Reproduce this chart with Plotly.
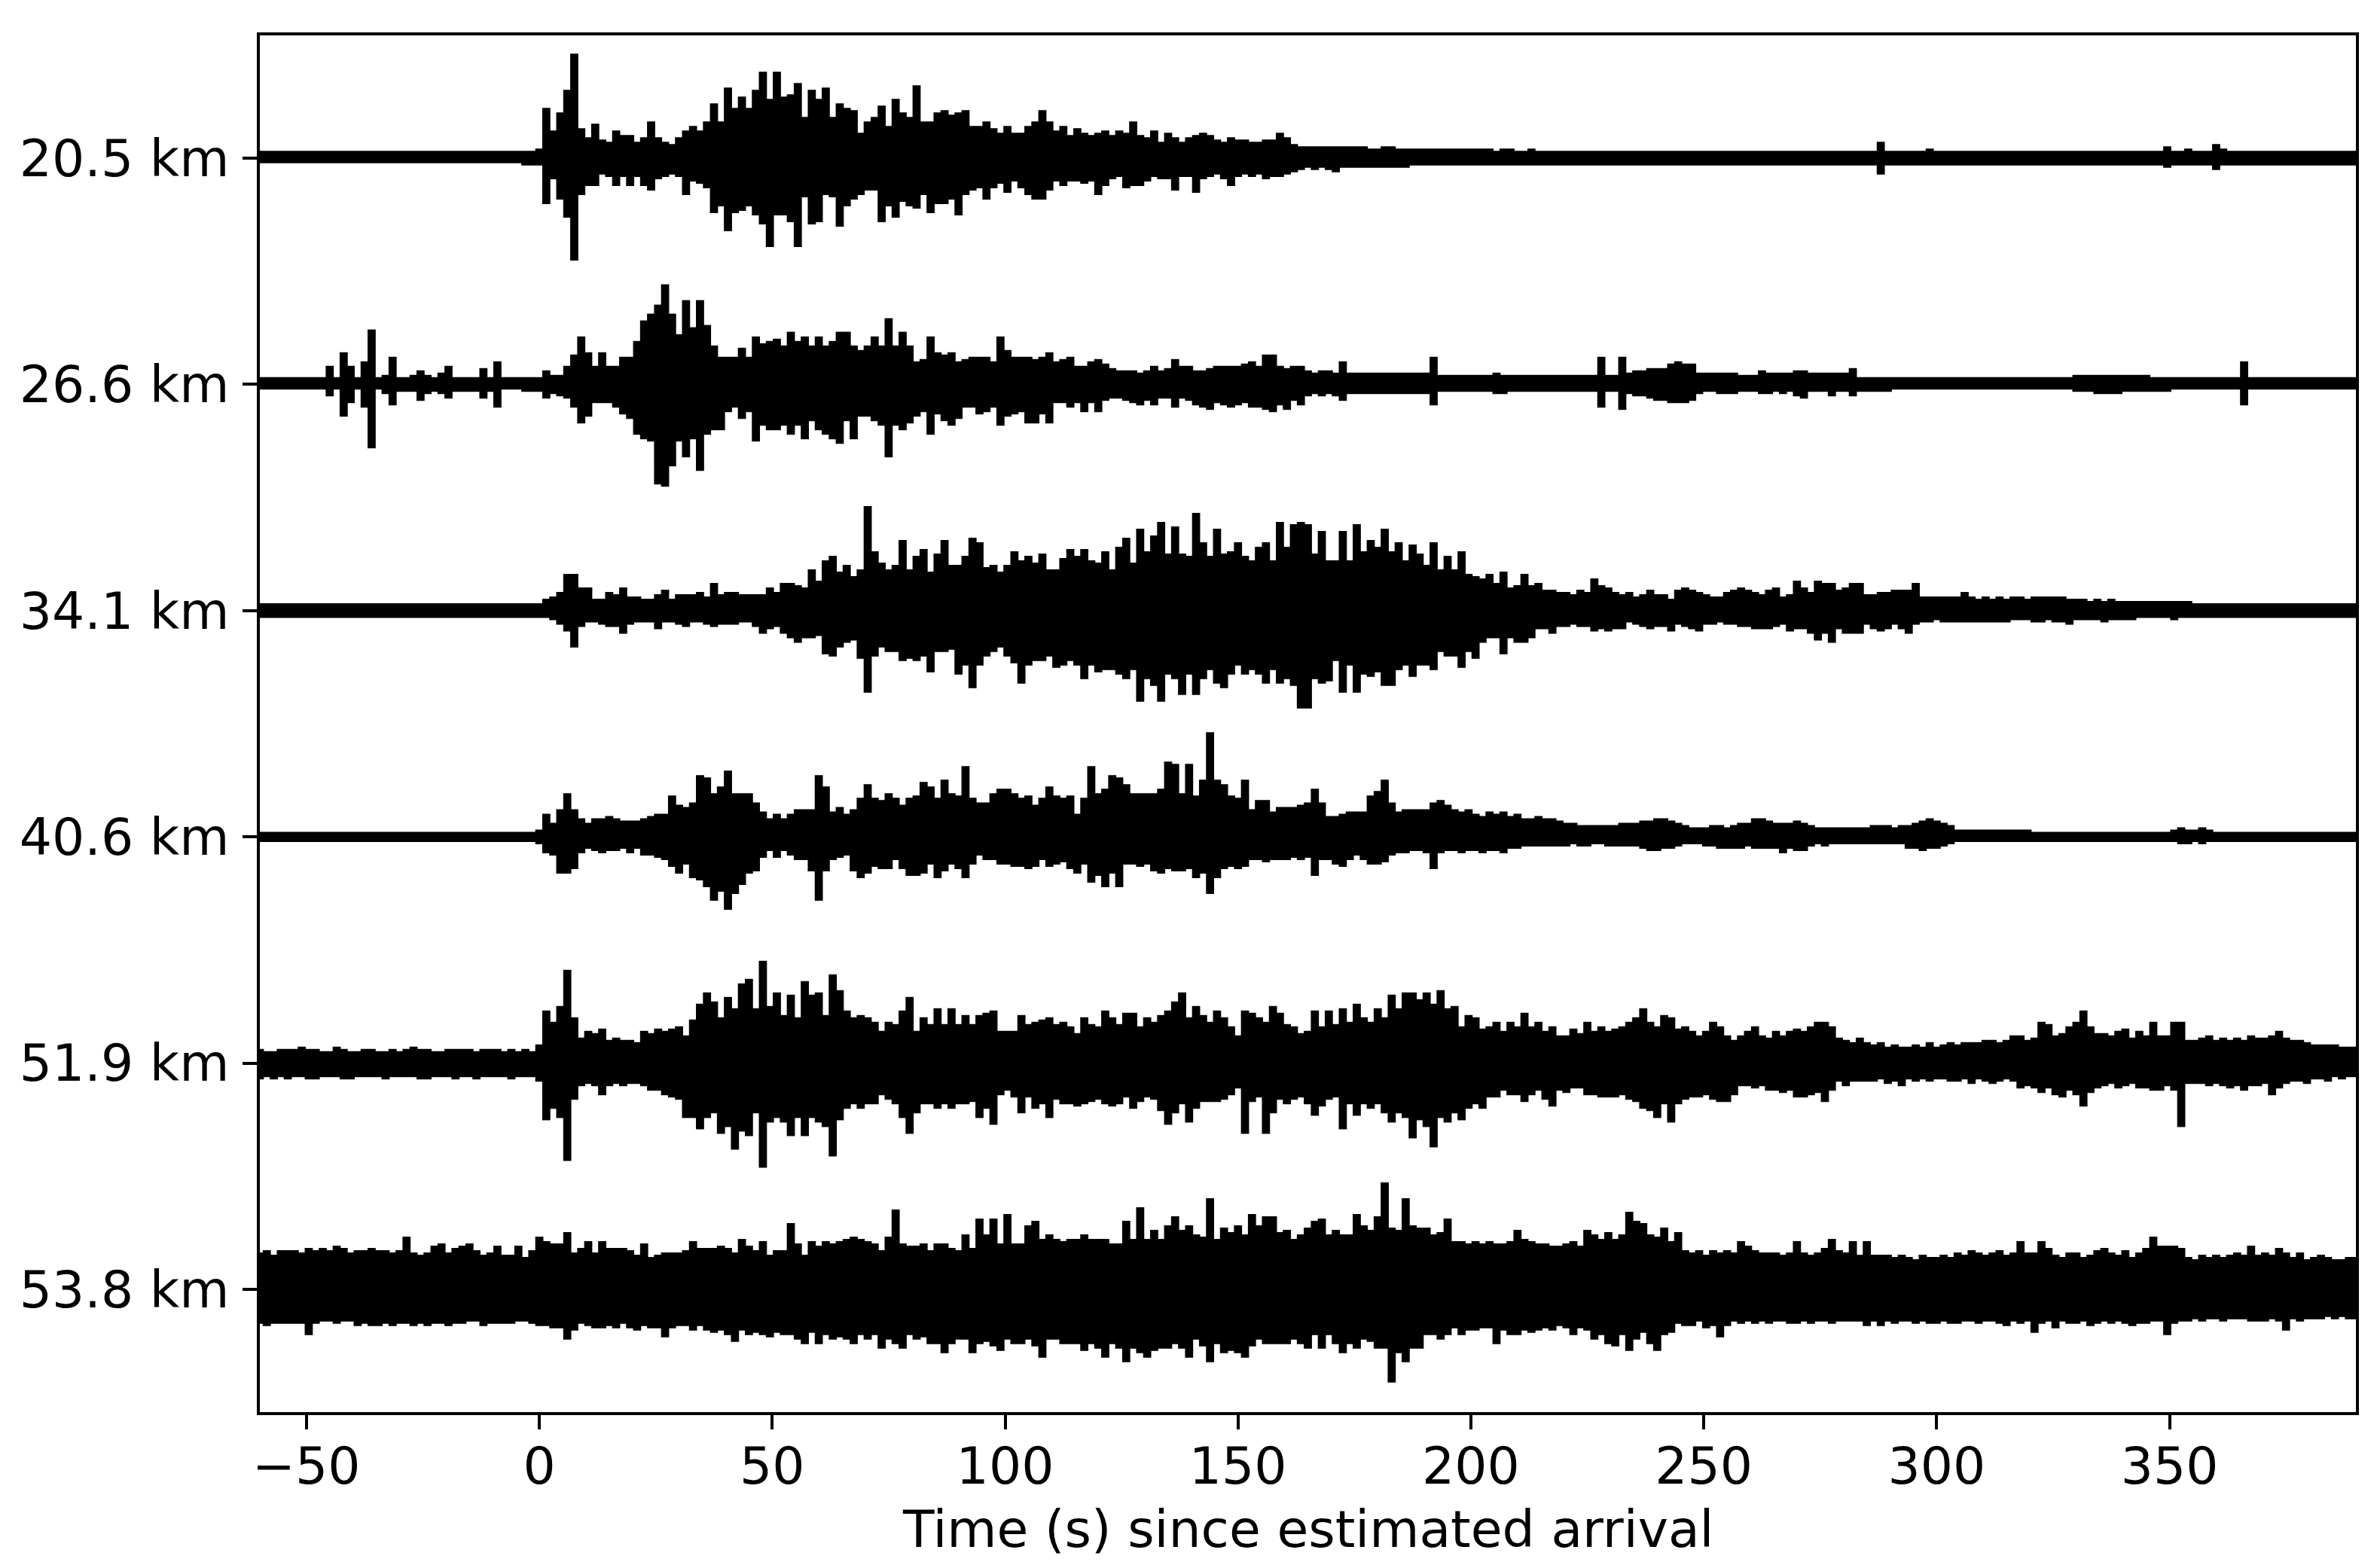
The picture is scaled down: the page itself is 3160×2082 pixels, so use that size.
import plotly.graph_objects as go

labels = ["20.5 km", "26.6 km", "34.1 km", "40.6 km", "51.9 km", "53.8 km"]
offsets = [500, 400, 300, 200, 100, 0]
x_ticks = [-50, 0, 50, 100, 150, 200, 250, 300, 350]
x_tick_text = ["\u221250", "0", "50", "100", "150", "200", "250", "300", "350"]
x_title = "Time (s) since estimated arrival"

# Envelope amplitudes, one value every 1.5 s from -60 s; each line is 30 s.
up_205 = [
3,3,3,3,3,3,3,3,3,3,3,3,3,3,3,3,3,3,3,3,
3,3,3,3,3,3,3,3,3,3,3,3,3,3,3,3,3,3,3,3,
4,22,12,20,30,46,13,9,15,8,7,12,10,10,7,9,16,9,7,6,
9,12,14,12,16,24,16,31,22,27,22,30,38,26,38,27,28,33,18,30,
26,31,18,24,22,21,11,16,18,23,14,26,20,18,32,16,16,20,21,19,
20,21,14,14,16,13,11,14,11,11,14,16,21,16,12,14,10,13,11,10,
11,12,10,12,11,16,10,9,12,7,11,9,7,9,10,11,10,8,7,9,
8,8,7,7,8,8,11,9,6,5,5,5,5,5,5,5,5,5,5,4,
4,5,5,4,4,4,4,4,4,4,4,4,4,4,4,4,4,3,4,4,
3,3,4,3,3,3,3,3,3,3,3,3,3,3,3,3,3,3,3,3,
3,3,3,3,3,3,3,3,3,3,3,3,3,3,3,3,3,3,3,3,
3,3,3,3,3,3,3,3,3,3,3,3,7,3,3,3,3,3,3,4,
3,3,3,3,3,3,3,3,3,3,3,3,3,3,3,3,3,3,3,3,
3,3,3,3,3,3,3,3,3,3,3,3,3,5,3,3,4,3,3,3,
6,4,3,3,3,3,3,3,3,3,3,3,3,3,3,3,3,3,3,3,3]
lo_205 = [
2,2,2,2,2,2,2,2,2,2,2,2,2,2,2,2,2,2,2,2,
2,2,2,2,2,2,2,2,2,2,2,2,2,2,2,2,2,2,3,3,
3,20,9,18,26,45,16,12,12,7,8,12,8,12,8,12,14,9,8,7,
8,16,10,11,13,24,21,32,24,23,21,25,29,39,25,25,28,39,17,29,
28,16,17,30,21,18,16,14,14,28,21,26,19,21,22,16,24,20,20,18,
25,16,14,13,18,13,11,15,10,13,16,18,18,14,10,12,10,10,11,10,
16,12,9,8,13,12,12,10,8,9,9,14,8,8,15,9,8,7,9,12,
8,7,8,7,9,8,8,7,6,5,4,5,4,5,6,4,4,4,4,4,
4,4,4,4,4,3,3,3,3,3,3,3,3,3,3,3,3,3,3,3,
3,3,3,3,3,3,3,3,3,3,3,3,3,3,3,3,3,3,3,3,
3,3,3,3,3,3,3,3,3,3,3,3,3,3,3,3,3,3,3,3,
3,3,3,3,3,3,3,3,3,3,3,3,7,3,3,3,3,3,3,3,
3,3,3,3,3,3,3,3,3,3,3,3,3,3,3,3,3,3,3,3,
3,3,3,3,3,3,3,3,3,3,3,3,3,4,3,3,3,3,3,3,
5,3,3,3,3,3,3,3,3,3,3,3,3,3,3,3,3,3,3,3,3]

up_266 = [
3,3,3,3,3,3,3,3,3,3,8,3,14,8,3,10,24,3,4,12,
3,3,4,6,4,3,5,8,3,3,3,3,7,3,10,3,3,3,3,3,
3,6,4,4,8,13,21,14,8,14,8,8,12,12,19,28,31,35,44,31,
22,37,25,37,26,17,12,12,12,16,12,21,18,19,20,17,23,19,21,17,
21,17,19,23,23,17,15,17,21,17,29,17,23,17,10,11,21,14,13,14,
10,11,12,12,12,10,21,15,12,12,12,11,12,14,10,11,12,8,8,10,
11,9,7,6,6,6,5,6,8,6,7,11,8,8,6,6,7,8,8,8,
8,9,10,8,13,13,8,7,8,8,6,5,6,6,5,10,5,5,5,5,
5,5,5,5,5,5,5,5,12,4,4,4,4,4,4,4,4,5,4,4,
4,4,4,4,4,4,4,4,4,4,4,4,12,4,4,12,5,6,6,7,
7,7,9,10,9,9,5,5,5,5,5,5,4,4,4,6,5,5,5,5,
6,6,5,5,5,5,5,5,7,3,3,3,3,3,3,3,3,3,3,3,
3,3,3,3,3,3,3,3,3,3,3,3,3,3,3,3,3,3,3,3,
4,4,4,4,4,4,4,4,4,4,4,3,3,3,3,3,3,3,3,3,
3,3,3,3,10,3,3,3,3,3,3,3,3,3,3,3,3,3,3,3,3]
lo_266 = [
2,2,2,2,2,2,2,2,2,2,5,2,14,8,2,10,28,2,4,9,
3,3,3,7,4,3,4,6,3,3,3,3,6,3,10,2,2,2,3,3,
3,6,4,5,6,10,17,14,8,8,8,10,13,15,22,24,25,44,45,36,
25,32,24,38,22,20,20,12,10,15,12,25,18,20,20,18,22,18,24,16,
20,22,24,26,16,24,14,14,16,18,32,18,20,17,14,12,22,13,16,18,
15,10,10,13,12,10,18,14,13,12,17,17,13,17,8,8,10,8,12,8,
12,7,6,6,7,8,9,7,9,6,6,10,6,7,9,10,11,8,9,10,
9,8,10,10,11,12,9,11,7,9,5,4,5,4,5,7,4,4,4,4,
4,4,4,4,4,4,4,4,9,3,3,3,3,3,3,3,3,4,4,3,
3,3,3,3,3,3,3,3,3,3,3,3,10,3,3,11,4,5,5,6,
7,7,8,8,8,7,4,3,3,4,4,4,3,3,3,4,4,3,4,3,
5,6,3,3,3,5,3,3,5,3,3,3,3,3,2,2,2,2,2,2,
2,2,2,2,2,2,2,2,2,2,2,2,2,2,2,2,2,2,2,2,
3,3,3,4,4,4,4,3,3,3,3,3,3,3,2,2,2,2,2,2,
2,2,2,2,9,2,2,2,2,2,2,2,2,2,2,2,2,2,2,2,2]

up_341 = [
3,3,3,3,3,3,3,3,3,3,3,3,3,3,3,3,3,3,3,3,
3,3,3,3,3,3,3,3,3,3,3,3,3,3,3,3,3,3,3,3,
3,5,6,8,16,16,10,10,5,5,8,7,10,6,6,5,5,7,9,5,
7,7,7,8,6,12,7,8,8,7,7,7,7,10,8,12,12,11,10,18,
13,22,24,17,20,15,18,46,26,21,18,20,31,18,24,27,17,25,31,20,
20,24,32,30,19,20,17,20,26,22,24,21,25,18,18,23,27,24,27,22,
21,26,18,28,32,21,36,26,33,39,25,37,25,24,43,30,24,36,25,26,
30,24,22,28,30,22,39,28,38,39,38,25,35,22,22,35,22,38,26,31,
28,36,26,30,22,29,25,20,30,18,24,18,26,16,15,14,16,12,17,10,
11,16,11,12,9,9,8,8,7,9,8,14,11,10,8,7,8,6,7,9,
7,7,5,9,10,9,8,7,6,6,8,9,10,9,8,7,9,10,6,7,
13,10,8,13,12,12,9,10,12,12,7,7,8,8,9,9,9,12,6,6,
6,6,6,6,8,6,5,6,5,6,5,6,6,5,6,6,6,6,6,5,
5,5,4,5,4,5,4,4,4,4,4,4,4,4,4,4,4,3,3,3,
3,3,3,3,3,3,3,3,3,3,3,3,3,3,3,3,3,3,3,3,3]
lo_341 = [
3,3,3,3,3,3,3,3,3,3,3,3,3,3,3,3,3,3,3,3,
3,3,3,3,3,3,3,3,3,3,3,3,3,3,3,3,3,3,3,3,
3,3,4,6,9,16,7,5,5,6,7,7,10,6,5,5,5,8,5,5,
6,7,5,5,6,7,6,6,6,5,5,7,10,8,7,10,12,14,12,12,
11,19,20,16,14,13,21,36,20,16,18,18,22,21,22,20,27,18,18,17,
28,24,34,24,20,18,16,20,23,32,24,22,22,20,25,24,22,24,30,24,
27,26,26,28,30,26,40,30,33,40,28,30,37,28,37,30,26,32,34,28,
24,28,26,28,32,26,32,30,33,43,43,30,32,31,22,36,24,36,28,29,
27,33,33,26,24,29,24,24,26,18,20,20,25,18,21,14,12,12,19,12,
14,14,12,8,8,10,7,7,6,7,7,9,8,9,8,8,5,6,7,8,
7,7,9,6,7,8,9,6,6,5,6,6,7,7,8,8,8,7,6,9,
8,8,10,13,10,14,8,10,10,10,6,8,9,8,6,8,10,6,5,5,
4,5,5,5,5,5,5,5,5,5,5,4,4,4,5,5,4,5,5,6,
4,4,4,4,5,4,4,4,4,3,3,3,3,3,4,3,3,3,3,3,
3,3,3,3,3,3,3,3,3,3,3,3,3,3,3,3,3,3,3,3,3]

up_406 = [
2,2,2,2,2,2,2,2,2,2,2,2,2,2,2,2,2,2,2,2,
2,2,2,2,2,2,2,2,2,2,2,2,2,2,2,2,2,2,2,2,
3,10,6,12,19,12,8,6,8,8,9,8,7,7,7,8,9,10,10,18,
14,13,15,27,26,19,22,29,19,19,19,15,11,8,10,8,10,12,12,12,
27,22,11,13,10,12,17,23,17,16,19,17,14,17,18,24,22,17,25,19,
18,31,17,15,15,19,21,21,19,17,18,14,17,22,18,17,18,10,17,31,
19,21,27,26,23,19,19,19,19,21,33,32,19,32,18,25,46,25,23,18,
17,25,12,16,16,11,13,13,13,14,15,21,15,9,9,10,11,11,11,18,
20,25,15,11,12,12,12,12,15,16,14,12,11,12,10,9,11,10,11,9,
10,8,8,9,8,8,7,6,6,5,5,5,5,5,5,6,6,6,7,7,
8,8,7,6,5,4,4,4,5,5,4,5,6,6,8,8,7,6,6,6,
7,6,5,4,4,4,4,4,4,4,4,5,5,5,4,5,5,6,7,8,
7,6,5,3,3,3,3,3,3,3,3,3,3,3,2,2,2,2,2,2,
2,2,2,2,2,2,2,2,2,2,2,2,2,2,3,4,3,3,4,3,
2,2,2,2,2,2,2,2,2,2,2,2,2,2,2,2,2,2,2,2,2]
lo_406 = [
2,2,2,2,2,2,2,2,2,2,2,2,2,2,2,2,2,2,2,2,
2,2,2,2,2,2,2,2,2,2,2,2,2,2,2,2,2,2,2,2,
3,7,8,16,16,14,7,5,6,7,6,6,5,7,5,8,8,9,10,13,
16,12,18,19,22,28,24,32,25,21,16,15,9,6,9,6,8,10,10,15,
28,15,10,9,8,15,18,16,13,14,14,10,14,17,17,16,12,18,15,12,
14,18,12,8,10,10,12,12,13,13,14,13,10,13,12,11,14,16,12,20,
17,22,16,22,12,12,13,12,15,16,14,15,15,14,18,16,25,18,14,13,
14,13,10,10,11,10,10,10,9,10,9,17,10,10,12,13,10,8,10,12,
12,11,8,7,7,6,6,7,14,7,6,6,7,6,6,7,6,6,7,5,
5,4,4,4,4,4,4,4,3,4,4,3,3,4,4,4,4,4,5,6,
6,5,5,4,3,3,3,4,4,5,5,5,5,4,5,5,5,5,7,5,
6,6,4,3,4,3,3,3,3,3,3,3,3,3,3,3,5,5,6,5,
5,4,3,2,2,2,2,2,2,2,2,2,2,2,2,2,2,2,2,2,
2,2,2,2,2,2,2,2,2,2,2,2,2,2,2,3,3,2,3,2,
2,2,2,2,2,2,2,2,2,2,2,2,2,2,2,2,2,2,2,2,2]

up_519 = [
6,5,5,6,6,6,7,6,6,5,5,7,6,5,5,6,6,5,5,6,
5,6,7,6,6,5,5,6,6,6,6,5,6,6,6,5,6,5,6,5,
8,23,18,25,41,20,11,14,13,15,10,11,10,10,9,14,13,15,14,15,
16,12,19,26,31,27,20,29,24,35,37,24,45,25,31,21,30,20,36,30,
31,21,39,32,23,20,21,20,18,14,18,17,23,29,14,20,17,24,17,24,
17,21,17,21,22,23,14,14,14,21,17,18,19,20,17,18,16,13,20,17,
16,23,20,17,22,22,16,20,18,21,23,27,31,20,25,21,18,23,20,16,
12,23,22,20,18,25,22,17,16,13,14,23,16,23,17,24,18,26,20,18,
24,20,30,24,31,31,28,31,26,32,24,25,16,21,20,15,16,18,14,18,
16,22,16,18,14,16,12,12,15,13,18,14,16,14,15,16,18,20,24,18,
16,21,20,15,16,14,12,14,18,16,12,10,12,14,16,12,11,14,12,14,
15,14,16,18,18,16,11,10,9,11,9,8,9,7,8,7,7,8,7,9,
7,8,9,8,9,9,9,10,10,9,10,12,12,10,11,18,17,12,13,16,
18,23,16,13,13,12,14,15,11,14,12,18,12,12,18,18,10,10,11,12,
10,11,10,11,10,12,11,11,12,14,11,10,10,9,8,8,8,8,7,7,7]
lo_519 = [
7,6,7,6,7,6,6,7,7,6,6,6,7,7,6,6,6,6,7,6,
6,6,6,7,7,6,6,6,7,6,6,7,6,6,6,6,7,6,6,6,
8,25,20,24,43,16,10,9,10,14,10,9,10,9,9,10,12,12,14,15,
16,24,24,29,24,22,31,28,38,30,32,22,46,26,24,26,32,24,32,24,
26,28,41,25,20,18,20,18,18,14,16,18,24,31,22,18,18,20,18,20,
18,18,17,24,20,27,14,12,15,22,15,20,18,24,16,18,18,19,18,17,
16,18,19,18,15,20,17,15,16,21,27,22,18,26,20,17,17,17,16,14,
11,31,17,15,31,22,16,18,16,15,18,23,19,16,15,29,18,23,18,20,
18,22,26,22,24,33,25,28,37,24,26,22,25,20,18,20,15,15,12,14,
14,17,14,12,16,19,12,13,11,11,14,14,15,15,15,14,16,17,20,21,
24,18,26,18,16,15,15,14,16,17,17,14,10,10,11,10,12,12,13,12,
15,15,14,13,17,12,8,10,8,8,8,8,7,9,8,10,7,8,7,8,
7,7,8,8,7,9,7,8,9,8,7,8,11,10,11,13,11,14,15,12,
14,19,13,11,10,9,11,10,9,11,11,12,12,10,12,28,9,9,9,10,
9,10,11,10,12,10,10,9,14,11,9,8,8,9,7,7,8,6,7,6,6]

up_538 = [
16,17,15,17,17,17,16,18,17,18,17,19,18,16,17,17,18,17,17,16,
17,23,16,15,16,19,20,16,18,19,20,17,15,16,19,15,15,19,14,17,
23,21,20,20,25,16,18,21,16,21,18,18,18,17,15,20,14,15,16,16,
16,17,21,18,18,18,19,18,16,22,19,17,21,15,17,17,29,20,15,21,
19,21,20,21,22,23,22,21,20,17,23,35,20,19,19,20,17,20,20,18,
17,24,18,31,24,31,20,33,20,20,28,30,22,24,22,21,22,22,24,22,
22,22,20,20,30,22,36,22,26,22,28,32,26,28,24,23,40,22,27,25,
28,24,33,28,32,32,25,26,22,24,27,30,31,24,26,24,24,33,28,26,
32,47,27,26,40,28,27,27,24,25,31,21,21,20,21,20,21,20,20,21,
26,22,21,20,20,19,19,20,21,19,26,24,22,25,22,24,34,30,29,24,
23,27,21,25,17,16,17,15,17,16,17,16,21,19,17,16,16,16,15,16,
21,16,15,16,18,22,17,16,21,15,21,15,15,15,14,15,14,13,15,14,
14,15,14,16,15,17,16,15,16,17,15,16,21,16,16,21,18,15,14,16,
16,14,15,17,18,16,15,17,14,16,18,23,19,19,19,18,14,13,15,14,
15,14,15,16,15,19,15,16,15,18,16,14,16,13,14,15,14,13,13,14,14]
lo_538 = [
15,16,15,15,15,15,15,20,15,14,14,15,14,14,16,15,16,16,15,16,
15,15,16,15,16,15,15,16,15,15,14,14,16,15,15,15,15,14,14,15,
16,16,17,17,22,18,15,16,17,17,16,17,15,17,18,16,17,17,21,17,
16,16,18,16,18,19,18,20,23,18,20,19,20,21,19,20,20,22,24,19,
24,20,22,21,22,24,20,22,20,26,22,24,26,20,22,21,24,24,28,24,
22,22,28,24,23,25,27,22,24,24,22,25,30,22,22,24,24,24,27,24,
26,30,24,26,32,26,28,30,27,26,26,24,26,30,22,25,32,24,28,27,
28,30,25,22,24,24,24,24,22,24,26,20,26,20,24,28,24,26,22,23,
26,26,41,28,32,26,26,20,20,22,20,17,20,18,18,17,17,24,18,20,
20,18,19,18,17,18,16,17,20,17,18,22,20,24,25,20,27,22,19,24,
27,20,19,15,16,16,14,17,16,21,16,14,15,14,15,14,15,14,14,15,
15,14,15,14,14,15,14,14,14,14,16,14,16,14,15,14,14,15,14,15,
15,14,15,15,14,14,15,14,14,15,16,14,15,14,19,15,14,17,14,15,
15,14,16,15,14,15,14,15,16,15,15,14,14,20,15,14,14,13,14,13,
13,14,13,13,13,14,14,14,13,14,18,13,14,13,13,13,12,13,12,13,13]

uppers = [up_205, up_266, up_341, up_406, up_519, up_538]
lowers = [lo_205, lo_266, lo_341, lo_406, lo_519, lo_538]

fig = go.Figure()
for name, base, up, lo in zip(labels, offsets, uppers, lowers):
    t_up = [-60 + 1.5 * i for i in range(len(up))]
    t_lo = [-60 + 1.5 * i for i in range(len(lo))]
    xs = t_up + t_lo[::-1]
    ys = [base + v for v in up] + [base - v for v in lo[::-1]]
    fig.add_trace(go.Scatter(x=xs, y=ys, mode="lines", name=name, fill="toself",
                             fillcolor="black",
                             line=dict(color="black", width=1.5, shape="hvh"),
                             showlegend=False, hoverinfo="skip"))

font = dict(family="DejaVu Sans", size=68, color="black")
fig.update_layout(
    width=3160, height=2082, autosize=False,
    paper_bgcolor="white", plot_bgcolor="white",
    margin=dict(l=345, r=32, t=47, b=207, pad=0),
    font=font, showlegend=False,
    xaxis=dict(range=[-60, 390], tickvals=x_ticks, ticktext=x_tick_text, ticks="outside",
               ticklen=19, tickwidth=4, tickcolor="black", showgrid=False, zeroline=False,
               showline=True, linecolor="black", linewidth=4, mirror=True, tickfont=font,
               ticklabelstandoff=-10, automargin=False),
    yaxis=dict(range=[-54.3, 554.3], tickvals=offsets, ticktext=labels, ticks="outside",
               ticklen=19, tickwidth=4, tickcolor="black", showgrid=False, zeroline=False,
               showline=True, linecolor="black", linewidth=4, mirror=True, tickfont=font,
               ticklabelstandoff=4, automargin=False),
    annotations=[dict(text=x_title, xref="paper", yref="paper", x=0.5, y=-0.0853,
                      xanchor="center", yanchor="middle", showarrow=False, font=font)],
)
fig.write_html("out.html", config={"displayModeBar": False},
               post_script="document.body.style.margin='0';")
